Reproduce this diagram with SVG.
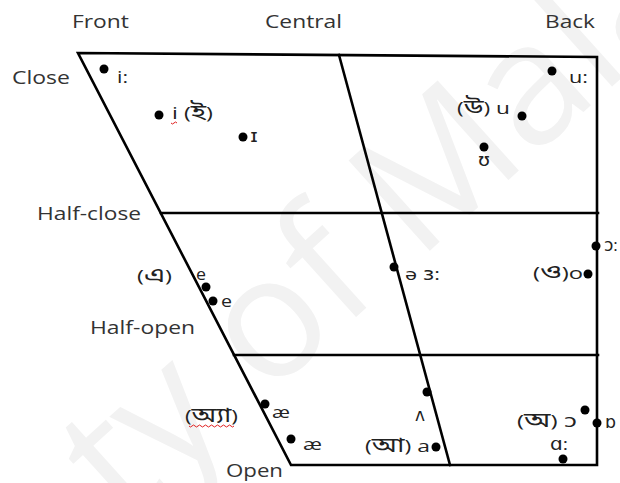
<svg xmlns="http://www.w3.org/2000/svg" width="620" height="483" viewBox="0 0 620 483">
<style>
.ax{font-family:"Open Sans","DejaVu Sans",sans-serif;font-size:19px;fill:#333}
.lb{font-family:"Open Sans","DejaVu Sans","Noto Sans Bengali","Noto Sans",sans-serif;font-size:17px;fill:#222}
.bn{font-size:21px}
.ln{stroke:#000;stroke-width:2.6;fill:none;stroke-linecap:square}
.wm{font-family:"Open Sans",sans-serif;font-size:170px;fill:#f2f2f2}
.sq{stroke:#e02020;stroke-width:1;fill:none}
</style>
<rect width="620" height="483" fill="#fff"/>
<g id="watermark">
<text class="wm" transform="translate(125,525) rotate(-42)">ty of Mala</text>
</g>
<g id="connectors">
<path class="ln" d="M78,53 L597,57 L597,465 L291,465 Z"/>
<line class="ln" x1="339" y1="55" x2="450" y2="465"/>
<line class="ln" x1="161" y1="213" x2="598" y2="213"/>
<line class="ln" x1="234" y1="355" x2="598" y2="355"/>
</g>
<g id="axis-labels">
<text class="ax" x="72" y="28" textLength="57" lengthAdjust="spacingAndGlyphs">Front</text>
<text class="ax" x="265" y="28" textLength="77" lengthAdjust="spacingAndGlyphs">Central</text>
<text class="ax" x="545" y="28" textLength="50" lengthAdjust="spacingAndGlyphs">Back</text>
<text class="ax" x="12" y="84" textLength="58" lengthAdjust="spacingAndGlyphs">Close</text>
<text class="ax" x="37" y="220" textLength="104" lengthAdjust="spacingAndGlyphs">Half-close</text>
<text class="ax" x="90" y="334" textLength="105" lengthAdjust="spacingAndGlyphs">Half-open</text>
<text class="ax" x="226" y="477" textLength="57" lengthAdjust="spacingAndGlyphs">Open</text>
</g>
<g id="v-i-long"><circle cx="104" cy="69" r="4.5"/><text class="lb" x="117" y="83" textLength="11" lengthAdjust="spacingAndGlyphs">i:</text></g>
<g id="v-i"><circle cx="159" cy="115" r="4.5"/><text class="lb" x="172" y="119" textLength="41" lengthAdjust="spacingAndGlyphs">i (<tspan class="bn">ই</tspan>)</text><path class="sq" d="M171,123 q1.5,2 3,0 q1.5,-2 3,0"/></g>
<g id="v-I"><circle cx="243" cy="137" r="4.5"/><text class="lb" x="250" y="142" textLength="8" lengthAdjust="spacingAndGlyphs">ɪ</text></g>
<g id="v-u-long"><circle cx="552" cy="71" r="4.5"/><text class="lb" x="569" y="83" textLength="19" lengthAdjust="spacingAndGlyphs">u:</text></g>
<g id="v-u"><circle cx="522" cy="116" r="4.5"/><text class="lb" x="457" y="114" textLength="53" lengthAdjust="spacingAndGlyphs">(<tspan class="bn">উ</tspan>) u</text></g>
<g id="v-U"><circle cx="484" cy="147" r="4.5"/><text class="lb" x="478" y="166" textLength="12" lengthAdjust="spacingAndGlyphs">ʊ</text></g>
<g id="v-e1"><circle cx="206" cy="287" r="4.5"/><text class="lb" x="137" y="282" textLength="35" lengthAdjust="spacingAndGlyphs">(<tspan class="bn">এ</tspan>)</text><text class="lb" x="196" y="280" textLength="10" lengthAdjust="spacingAndGlyphs">e</text></g>
<g id="v-e2"><circle cx="213" cy="301" r="4.5"/><text class="lb" x="221" y="307" textLength="11" lengthAdjust="spacingAndGlyphs">e</text></g>
<g id="v-schwa"><circle cx="394" cy="267" r="4.5"/><text class="lb" x="405" y="280" textLength="35" lengthAdjust="spacingAndGlyphs">ə ɜ:</text></g>
<g id="v-o-long"><circle cx="596" cy="246" r="4.5"/><text class="lb" x="604" y="251">ɔ:</text></g>
<g id="v-o"><circle cx="588" cy="274" r="4.5"/><text class="lb" x="533" y="279" textLength="50" lengthAdjust="spacingAndGlyphs">(<tspan class="bn">ও</tspan>)o</text></g>
<g id="v-ae1"><circle cx="265" cy="404" r="4.5"/><text class="lb" x="185" y="422" textLength="53" lengthAdjust="spacingAndGlyphs">(<tspan class="bn">অ্যা</tspan>)</text><path class="sq" d="M189,426 q1.5,2 3,0 t3,0 t3,0 t3,0 t3,0 t3,0 t3,0 t3,0 t3,0 t3,0 t3,0 t3,0 t3,0 t3,0 t3,0"/><text class="lb" x="272" y="418" textLength="18" lengthAdjust="spacingAndGlyphs">æ</text></g>
<g id="v-ae2"><circle cx="291" cy="439" r="4.5"/><text class="lb" x="303" y="450" textLength="19" lengthAdjust="spacingAndGlyphs">æ</text></g>
<g id="v-wedge"><circle cx="427" cy="392" r="4.5"/><text class="lb" x="415" y="421" textLength="10" lengthAdjust="spacingAndGlyphs">ʌ</text></g>
<g id="v-a"><circle cx="436" cy="447" r="4.5"/><text class="lb" x="365" y="452" textLength="65" lengthAdjust="spacingAndGlyphs">(<tspan class="bn">আ</tspan>) a</text></g>
<g id="v-open-o"><circle cx="585" cy="410" r="4.5"/><text class="lb" x="517" y="427" textLength="60" lengthAdjust="spacingAndGlyphs">(<tspan class="bn">অ</tspan>) ɔ</text></g>
<g id="v-turned-a"><circle cx="597" cy="423" r="4.5"/><text class="lb" x="605" y="428" textLength="11" lengthAdjust="spacingAndGlyphs">ɒ</text></g>
<g id="v-a-long"><circle cx="563" cy="459" r="4.5"/><text class="lb" x="550" y="450" textLength="18" lengthAdjust="spacingAndGlyphs">ɑ:</text></g>
</svg>
